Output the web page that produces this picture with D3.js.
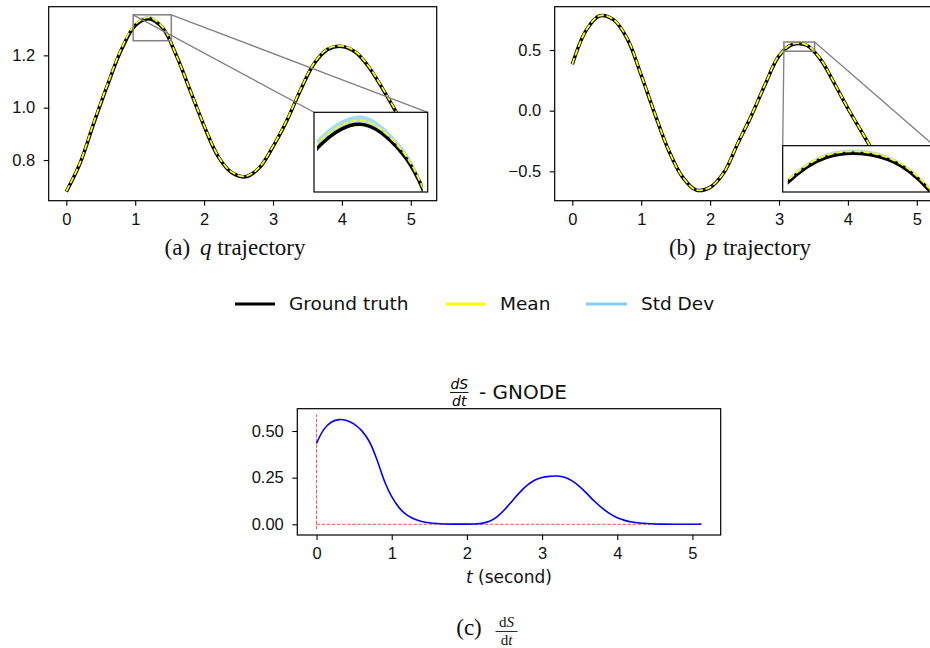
<!DOCTYPE html>
<html>
<head>
<meta charset="utf-8">
<script src="https://cdn.jsdelivr.net/npm/d3@7"></script>
<style>
  body { margin: 0; background: #fff; }
  svg { display: block; font-family: "DejaVu Sans", sans-serif; }
  .serif { font-family: "Liberation Serif", "Times New Roman", serif; }
</style>
</head>
<body>
<svg id="fig" width="930" height="648"></svg>
<script>
// time samples shared by the q / p trajectories (seconds)
const tGrid = [0, 0.2, 0.4, 0.6, 0.8, 1.0, 1.2, 1.4, 1.6, 1.8, 2.0, 2.2, 2.4, 2.6, 2.8,
               3.0, 3.2, 3.4, 3.6, 3.8, 4.0, 4.2, 4.4, 4.6, 4.8, 5.0, 5.12]

const qTruth = [0.679, 0.788, 0.942, 1.088, 1.222, 1.314, 1.340, 1.304, 1.198, 1.064, 0.930, 0.815, 0.752, 0.736,
                0.770, 0.851, 0.950, 1.068, 1.170, 1.224, 1.234, 1.212, 1.152, 1.068, 0.977, 0.878, 0.826]
const qMean  = [0.681, 0.790, 0.945, 1.091, 1.226, 1.319, 1.345, 1.307, 1.198, 1.065, 0.932, 0.817, 0.754, 0.738,
                0.772, 0.853, 0.952, 1.070, 1.172, 1.226, 1.236, 1.214, 1.154, 1.070, 0.979, 0.880, 0.828]
const qStd   = [0.003, 0.003, 0.004, 0.005, 0.006, 0.006, 0.006, 0.005, 0.004, 0.004, 0.004, 0.004, 0.004, 0.004,
                0.004, 0.004, 0.004, 0.004, 0.004, 0.004, 0.004, 0.004, 0.004, 0.004, 0.004, 0.004, 0.004]

const pTruth = [0.382, 0.662, 0.782, 0.748, 0.590, 0.292, -0.030, -0.330, -0.548, -0.655, -0.632, -0.510, -0.272, -0.040,
                0.218, 0.452, 0.547, 0.539, 0.425, 0.228, 0.018, -0.175, -0.368, -0.560, -0.585, -0.450, -0.290]
const pMean  = [0.384, 0.664, 0.784, 0.750, 0.592, 0.294, -0.028, -0.328, -0.546, -0.653, -0.630, -0.508, -0.270, -0.038,
                0.220, 0.455, 0.550, 0.542, 0.428, 0.230, 0.020, -0.173, -0.366, -0.558, -0.583, -0.448, -0.288]
const pStd   = [0.003, 0.003, 0.003, 0.003, 0.003, 0.003, 0.003, 0.003, 0.003, 0.003, 0.003, 0.003, 0.003, 0.003,
                0.003, 0.003, 0.003, 0.003, 0.003, 0.003, 0.003, 0.003, 0.003, 0.003, 0.003, 0.003, 0.003]

// dS/dt (GNODE)
const tS = [0, 0.1, 0.2, 0.3, 0.4, 0.5, 0.6, 0.7, 0.8, 0.9, 1.0, 1.1, 1.2, 1.3, 1.4, 1.5, 1.6, 1.7, 1.8, 1.9, 2.0,
            2.1, 2.2, 2.3, 2.4, 2.5, 2.6, 2.7, 2.8, 2.9, 3.0, 3.1, 3.2, 3.3, 3.4, 3.5, 3.6, 3.7, 3.8, 3.9, 4.0,
            4.1, 4.2, 4.3, 4.4, 4.5, 4.6, 4.8, 5.0, 5.12]
const dSdt = [0.434, 0.510, 0.548, 0.561, 0.556, 0.537, 0.502, 0.445, 0.350, 0.235, 0.148, 0.088, 0.050, 0.028, 0.015,
              0.008, 0.004, 0.002, 0.001, 0.001, 0.001, 0.002, 0.005, 0.016, 0.040, 0.078, 0.124, 0.170, 0.208,
              0.236, 0.251, 0.257, 0.259, 0.252, 0.233, 0.202, 0.163, 0.122, 0.087, 0.057, 0.035, 0.021, 0.012,
              0.007, 0.004, 0.002, 0.001, 0.0005, 0.0007, 0.002]

const tTicks = [0, 1, 2, 3, 4, 5]
const qTicks = [0.8, 1.0, 1.2]
const pTicks = [-0.5, 0, 0.5]
const sTicks = [0, 0.25, 0.5]
const legendNames = ['Ground truth', 'Mean', 'Std Dev']
const legendColors = ['#000000', '#ffff00', '#87cefa']

const svg = d3.select('#fig')
const tDomain = [-0.256, 5.376]
const tickFont = 16.5

const styleAxis = (g, size) => {
  g.select('.domain').remove()
  g.selectAll('.tick line').attr('stroke', '#000').attr('stroke-width', 1.1)
  g.selectAll('.tick text').attr('fill', '#111').attr('font-size', size)
}

const drawPanel = (o) => {
  const g = svg.append('g')
  const x = d3.scaleLinear().domain(tDomain).range([o.x0, o.x1])
  const y = d3.scaleLinear().domain(o.yDomain).range([o.y1, o.y0])
  const idx = d3.range(o.truth.length)

  const clipId = 'clip-' + o.id
  svg.append('clipPath').attr('id', clipId)
    .append('rect').attr('x', o.x0).attr('y', o.y0).attr('width', o.x1 - o.x0).attr('height', o.y1 - o.y0)

  // curves, drawn for both the main axes and the inset
  const drawCurves = (layer, xs, ys) => {
    const band = d3.area().curve(d3.curveCatmullRom)
      .x(i => xs(tGrid[i])).y0(i => ys(o.mean[i] - o.std[i])).y1(i => ys(o.mean[i] + o.std[i]))
    const line = arr => d3.line().curve(d3.curveCatmullRom).x(i => xs(tGrid[i])).y(i => ys(arr[i]))
    layer.append('path').attr('d', band(idx)).attr('fill', '#87cefa').attr('opacity', 0.75)
    layer.append('path').attr('d', line(o.truth)(idx)).attr('fill', 'none')
      .attr('stroke', '#000').attr('stroke-width', 3.5)
    layer.append('path').attr('d', line(o.mean)(idx)).attr('fill', 'none')
      .attr('stroke', '#ffff00').attr('stroke-width', 1.8).attr('stroke-dasharray', '6.5,2.6')
  }

  drawCurves(g.append('g').attr('clip-path', `url(#${clipId})`), x, y)

  g.append('g').attr('transform', `translate(0,${o.y1})`)
    .call(d3.axisBottom(x).tickValues(tTicks).tickFormat(d3.format('d')).tickSize(5).tickPadding(7.5).tickSizeOuter(0))
    .call(a => styleAxis(a, tickFont))
  g.append('g').attr('transform', `translate(${o.x0},0)`)
    .call(d3.axisLeft(y).tickValues(o.yTicks).tickFormat(d3.format('.1f')).tickSize(5).tickPadding(8.5).tickSizeOuter(0))
    .call(a => styleAxis(a, tickFont))
  g.append('rect').attr('x', o.x0).attr('y', o.y0).attr('width', o.x1 - o.x0).attr('height', o.y1 - o.y0)
    .attr('fill', 'none').attr('stroke', '#000').attr('stroke-width', 1.2)

  // zoom marker + connectors
  const z = o.zoom
  const rc = {
    tl: [x(z.t[0]), y(z.v[1])], tr: [x(z.t[1]), y(z.v[1])],
    bl: [x(z.t[0]), y(z.v[0])], br: [x(z.t[1]), y(z.v[0])]
  }
  const b = o.inset
  const ic = { tl: [b.x0, b.y0], tr: [b.x1, b.y0], bl: [b.x0, b.y1], br: [b.x1, b.y1] }
  g.append('rect').attr('x', rc.tl[0]).attr('y', rc.tl[1])
    .attr('width', rc.tr[0] - rc.tl[0]).attr('height', rc.bl[1] - rc.tl[1])
    .attr('fill', 'none').attr('stroke', '#808080').attr('stroke-width', 1.5)
  o.links.forEach(([a, c]) => {
    g.append('line').attr('x1', rc[a][0]).attr('y1', rc[a][1]).attr('x2', ic[c][0]).attr('y2', ic[c][1])
      .attr('stroke', '#808080').attr('stroke-width', 1.3)
  })

  // inset axes: only the slice of the run that falls in the zoom window is plotted
  const ix = d3.scaleLinear().domain(z.t).range([b.x0, b.x1])
  const iy = d3.scaleLinear().domain(z.v).range([b.y1, b.y0])
  const iclip = 'iclip-' + o.id
  svg.append('clipPath').attr('id', iclip)
    .append('rect').attr('x', ix(z.slice[0])).attr('y', b.y0)
    .attr('width', ix(z.slice[1]) - ix(z.slice[0])).attr('height', b.y1 - b.y0)
  g.append('rect').attr('x', b.x0).attr('y', b.y0).attr('width', b.x1 - b.x0).attr('height', b.y1 - b.y0)
    .attr('fill', '#fff')
  drawCurves(g.append('g').attr('clip-path', `url(#${iclip})`), ix, iy)
  g.append('rect').attr('x', b.x0).attr('y', b.y0).attr('width', b.x1 - b.x0).attr('height', b.y1 - b.y0)
    .attr('fill', 'none').attr('stroke', '#000').attr('stroke-width', 1.2)

  // caption
  const cap = svg.append('text').attr('class', 'serif').attr('x', o.capX).attr('y', 255)
    .attr('text-anchor', 'middle').attr('font-size', 23).attr('fill', '#111')
  cap.append('tspan').text(o.capTag)
  cap.append('tspan').attr('dx', 10).attr('font-style', 'italic').text(o.capVar)
  cap.append('tspan').text(' trajectory')
}

drawPanel({
  id: 'q', x0: 48.7, x1: 436.7, y0: 6.7, y1: 200.7, yDomain: [0.6445, 1.386], yTicks: qTicks,
  truth: qTruth, mean: qMean, std: qStd,
  zoom: { t: [0.97, 1.524], v: [1.256, 1.355], slice: [0.985, 1.5] },
  inset: { x0: 314, x1: 427.7, y0: 112.3, y1: 192 },
  links: [['tl', 'tl'], ['tr', 'tr']],
  capX: 235, capTag: '(a)', capVar: 'q'
})

drawPanel({
  id: 'p', x0: 554.7, x1: 942.7, y0: 6.7, y1: 200.7, yDomain: [-0.742, 0.857], yTicks: pTicks,
  truth: pTruth, mean: pMean, std: pStd,
  zoom: { t: [3.071, 3.517], v: [0.49, 0.566], slice: [3.086, 3.504] },
  inset: { x0: 782.7, x1: 934, y0: 145.7, y1: 192 },
  links: [['bl', 'tl'], ['tr', 'tr']],
  capX: 740, capTag: '(b)', capVar: 'p'
})

// legend
const legendX = [[235, 275, 289], [446, 486, 500], [586, 627, 641]]
const lg = svg.append('g')
legendNames.forEach((name, i) => {
  const [a, b, tx] = legendX[i]
  lg.append('line').attr('x1', a).attr('x2', b).attr('y1', 304).attr('y2', 304)
    .attr('stroke', legendColors[i]).attr('stroke-width', 3)
  lg.append('text').attr('x', tx).attr('y', 304).attr('dy', '0.35em')
    .attr('font-size', 18.5).attr('fill', '#111').text(name)
})

// panel (c): dS/dt
{
  const L = 297.3, R = 720.7, T = 408.7, B = 535
  const x = d3.scaleLinear().domain(tDomain).range([L, R])
  const y = d3.scaleLinear().domain([-0.0573, 0.6195]).range([B, T])
  const g = svg.append('g')
  const sMin = -0.0265, sMax = 0.589

  g.append('line').attr('x1', x(0)).attr('x2', x(0)).attr('y1', y(sMin)).attr('y2', y(sMax))
    .attr('stroke', '#ff4d4d').attr('stroke-width', 1).attr('stroke-dasharray', '3.5,1.6')
  g.append('line').attr('x1', x(0)).attr('x2', x(tS[tS.length - 1])).attr('y1', y(0)).attr('y2', y(0))
    .attr('stroke', '#ff4d4d').attr('stroke-width', 1).attr('stroke-dasharray', '3.5,1.6')
  g.append('path')
    .attr('d', d3.line().curve(d3.curveCatmullRom).x((d, i) => x(tS[i])).y(d => y(d))(dSdt))
    .attr('fill', 'none').attr('stroke', '#0000ff').attr('stroke-width', 1.6)

  g.append('g').attr('transform', `translate(0,${B})`)
    .call(d3.axisBottom(x).tickValues(tTicks).tickFormat(d3.format('d')).tickSize(5).tickPadding(7.5).tickSizeOuter(0))
    .call(a => styleAxis(a, tickFont))
  g.append('g').attr('transform', `translate(${L},0)`)
    .call(d3.axisLeft(y).tickValues(sTicks).tickFormat(d3.format('.2f')).tickSize(5).tickPadding(8.5).tickSizeOuter(0))
    .call(a => styleAxis(a, tickFont))
  g.append('rect').attr('x', L).attr('y', T).attr('width', R - L).attr('height', B - T)
    .attr('fill', 'none').attr('stroke', '#000').attr('stroke-width', 1.2)

  // title: dS/dt - GNODE
  g.append('text').attr('x', 459.3).attr('y', 388.5).attr('text-anchor', 'middle')
    .attr('font-size', 14).attr('font-style', 'italic').text('dS')
  g.append('line').attr('x1', 450).attr('x2', 468.5).attr('y1', 392.5).attr('y2', 392.5)
    .attr('stroke', '#000').attr('stroke-width', 0.9)
  g.append('text').attr('x', 459.3).attr('y', 405.5).attr('text-anchor', 'middle')
    .attr('font-size', 14).attr('font-style', 'italic').text('dt')
  g.append('text').attr('x', 479).attr('y', 398.5).attr('font-size', 20).attr('fill', '#111').text('- GNODE')

  // x label
  const xl = g.append('text').attr('x', (L + R) / 2).attr('y', 583).attr('text-anchor', 'middle')
    .attr('font-size', 17).attr('fill', '#111')
  xl.append('tspan').attr('font-style', 'italic').text('t')
  xl.append('tspan').text(' (second)')

  // caption (c) dS/dt
  const cg = svg.append('g').attr('class', 'serif').attr('fill', '#111')
  cg.append('text').attr('x', 469).attr('y', 634.5).attr('text-anchor', 'middle').attr('font-size', 23).text('(c)')
  const top = cg.append('text').attr('x', 506.5).attr('y', 627).attr('text-anchor', 'middle').attr('font-size', 15)
  top.append('tspan').text('d')
  top.append('tspan').attr('font-style', 'italic').text('S')
  cg.append('line').attr('x1', 495.5).attr('x2', 517.5).attr('y1', 631.5).attr('y2', 631.5)
    .attr('stroke', '#111').attr('stroke-width', 0.9)
  const bot = cg.append('text').attr('x', 506.5).attr('y', 645).attr('text-anchor', 'middle').attr('font-size', 15)
  bot.append('tspan').text('d')
  bot.append('tspan').attr('font-style', 'italic').text('t')
}
</script>
</body>
</html>
